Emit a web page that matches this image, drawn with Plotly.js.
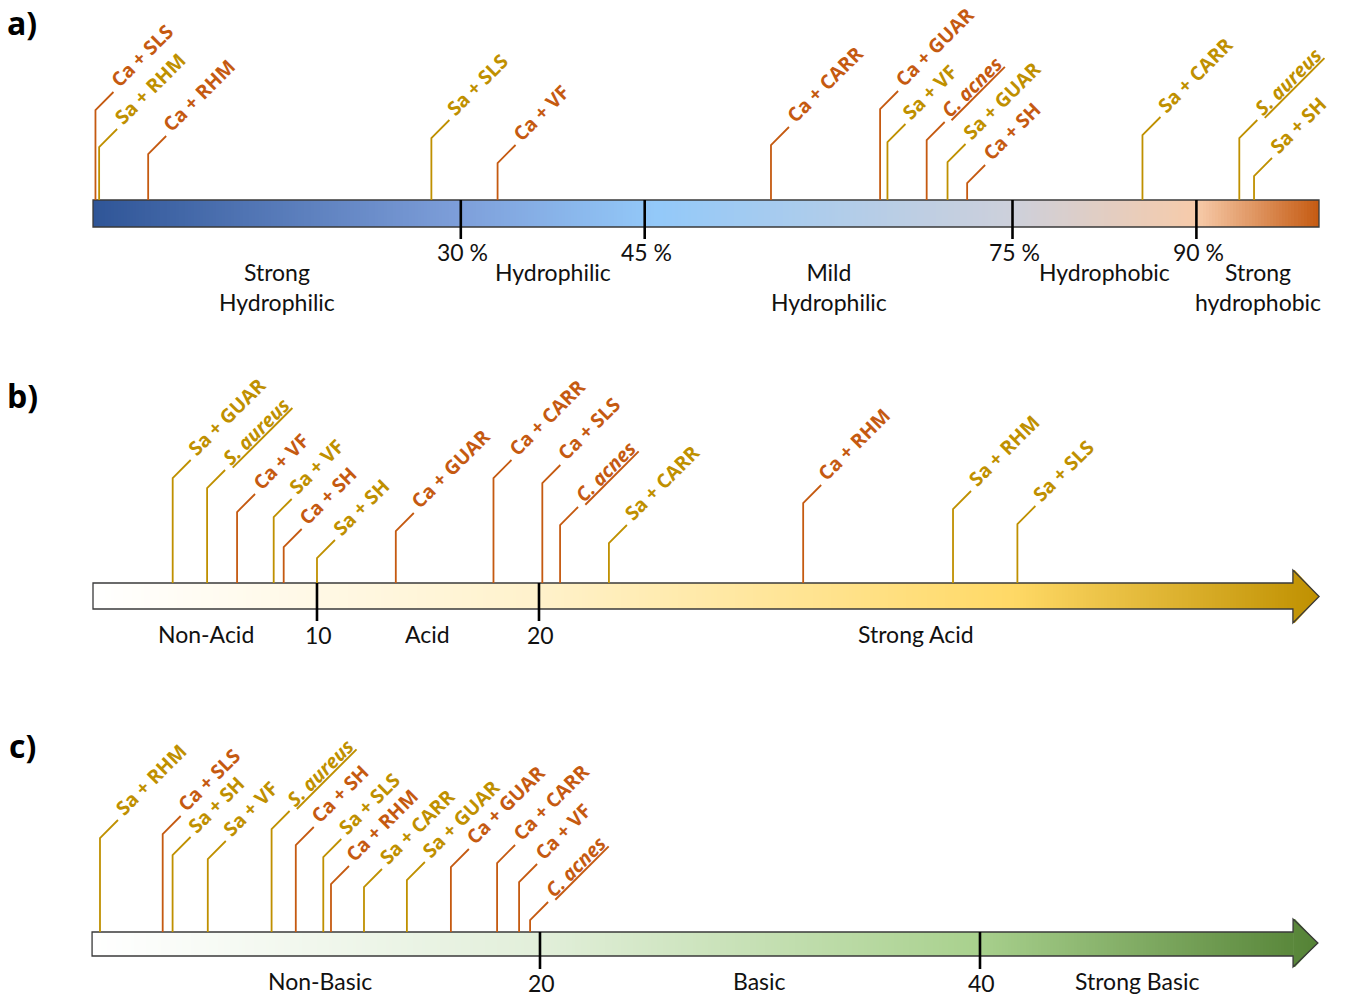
<!DOCTYPE html>
<html><head><meta charset="utf-8">
<script src="https://cdn.plot.ly/plotly-3.0.1.min.js"></script>
<style>html,body{margin:0;padding:0;background:#fff;}#chart{width:1353px;height:996px;}</style>
</head><body><div id="chart"></div>
<script>
// ================= DATA =================
// a) hydrophobicity (%)
const aLabels = ['Ca + SLS','Sa + RHM','Ca + RHM','Sa + SLS','Ca + VF','Ca + CARR','Ca + GUAR','Sa + VF','C. acnes','Sa + GUAR','Ca + SH','Sa + CARR','S. aureus','Sa + SH'];
const aValues = [0.2, 0.5, 4.5, 27.6, 33.0, 55.3, 64.2, 64.8, 68.0, 69.7, 71.3, 85.6, 93.5, 94.7];
const aTicks = [30, 45, 75, 90];
const aTickText = ['30 %', '45 %', '75 %', '90 %'];
const aZones = ['Strong<br>Hydrophilic', 'Hydrophilic', 'Mild<br>Hydrophilic', 'Hydrophobic', 'Strong<br>hydrophobic'];

// b) acidity
const bLabels = ['Sa + GUAR','S. aureus','Ca + VF','Sa + VF','Ca + SH','Sa + SH','Ca + GUAR','Ca + CARR','Ca + SLS','C. acnes','Sa + CARR','Ca + RHM','Sa + RHM','Sa + SLS'];
const bValues = [3.5, 5.05, 6.4, 8.05, 8.5, 10.0, 13.55, 17.95, 20.15, 20.95, 23.15, 31.9, 38.65, 41.55];
const bTicks = [10, 20];
const bTickText = ['10', '20'];
const bZones = ['Non-Acid', 'Acid', 'Strong Acid'];

// c) basicity
const cLabels = ['Sa + RHM','Ca + SLS','Sa + SH','Sa + VF','S. aureus','Ca + SH','Sa + SLS','Ca + RHM','Sa + CARR','Sa + GUAR','Ca + GUAR','Ca + CARR','Ca + VF','C. acnes'];
const cValues = [0.0, 2.85, 3.3, 4.9, 7.8, 8.9, 10.15, 10.5, 12.0, 13.95, 15.95, 18.05, 19.05, 19.55];
const cTicks = [20, 40];
const cTickText = ['20', '40'];
const cZones = ['Non-Basic', 'Basic', 'Strong Basic'];

// ================= LAYOUT / STYLE =================
// leader heights above the bar (px)
const aLeader = [90, 53, 46, 62, 37, 55, 91, 58, 60, 38, 17, 65, 62, 24];
const bLeader = [105, 95, 71, 66, 36, 25, 52, 105, 100, 58, 40, 80, 74, 59];
const cLeader = [94, 98, 77, 73, 103, 87, 75, 48, 45, 52, 65, 69, 50, 12];

const CA_COLOR = '#C55A11', SA_COLOR = '#BF9000';
const FONT = 'Lato, "Open Sans", sans-serif';
const LABEL_FONT = '"Open Sans", "Noto Sans", sans-serif';
const DIAG = 18, LABEL_SIZE = 19.5, ZONE_SIZE = 23;
const W = 1353, H = 996;

const panels = [
  {xa: 'x', key: 'xaxis', range: [-7.586, 102.773], start: 0, shaftEnd: 100, end: 100, arrow: false,
   barTop: 200, barBottom: 227, tickBottom: 239, tickLabelY: 252, zoneY: 256, zoneAnchor: 'top',
   letter: 'a)', letterY: 22, labels: aLabels, values: aValues, leader: aLeader,
   ticks: aTicks, tickText: aTickText, zones: aZones,
   colorscale: [[0, '#2F5597'], [0.3, '#7E9FDA'], [0.46, '#93C9F9'], [0.75, '#CDD0DB'], [0.9, '#F7CBAA'], [1, '#C55A11']]},
  {xa: 'x2', key: 'xaxis2', range: [-4.279, 56.667], start: -0.09, shaftEnd: 53.96, end: 55.14, arrow: true,
   barTop: 583, barBottom: 609, headTop: 570, headBottom: 623, tickBottom: 621, tickLabelY: 635, zoneY: 634, zoneAnchor: 'middle',
   letter: 'b)', letterY: 395, labels: bLabels, values: bValues, leader: bLeader,
   ticks: bTicks, tickText: bTickText, zones: bZones,
   colorscale: [[0, '#FFFFFF'], [0.36, '#FFF2CC'], [0.75, '#FFD966'], [1, '#BF9000']]},
  {xa: 'x3', key: 'xaxis3', range: [-4.545, 56.955], start: -0.36, shaftEnd: 54.23, end: 55.36, arrow: true,
   barTop: 932, barBottom: 956, headTop: 919, headBottom: 967, tickBottom: 969, tickLabelY: 983, zoneY: 981, zoneAnchor: 'middle',
   letter: 'c)', letterY: 745, labels: cLabels, values: cValues, leader: cLeader,
   ticks: cTicks, tickText: cTickText, zones: cZones,
   colorscale: [[0, '#FFFFFF'], [0.365, '#E2EFDA'], [0.72, '#A9D18E'], [1, '#548235']]}
];

const traces = [], shapes = [], annotations = [];
const layout = {
  width: W, height: H, margin: {l: 0, r: 0, t: 0, b: 0},
  paper_bgcolor: '#fff', plot_bgcolor: '#fff', showlegend: false,
  yaxis: {domain: [0, 1], range: [H, 0], visible: false, fixedrange: true},
  shapes: shapes, annotations: annotations
};

function isCa(label) { return label.startsWith('Ca') || label.startsWith('C. acnes'); }
function fmtLabel(label) {
  if (label === 'C. acnes' || label === 'S. aureus') return '<b><i><u>' + label + '</u></i></b>';
  return '<b>' + label + '</b>';
}

panels.forEach((p) => {
  layout[p.key] = {domain: [0, 1], range: p.range, visible: false, fixedrange: true, anchor: 'y'};
  if (p.xa !== 'x') layout[p.key].overlaying = 'x';
  const k = W / (p.range[1] - p.range[0]); // px per unit

  // gradient shaft
  const N = 400;
  const edges = [], z = [];
  for (let j = 0; j <= N; j++) edges.push(p.start + (p.shaftEnd - p.start) * j / N);
  for (let j = 0; j < N; j++) z.push((edges[j] + edges[j + 1]) / 2);
  traces.push({type: 'heatmap', xaxis: p.xa, yaxis: 'y', x: edges, y: [p.barTop, p.barBottom], z: [z],
    zmin: p.start, zmax: p.end, colorscale: p.colorscale, showscale: false, hoverinfo: 'skip'});

  let outline;
  if (p.arrow) {
    const M = 30, he = [], hz = [];
    for (let j = 0; j <= M; j++) he.push(p.shaftEnd + (p.end - p.shaftEnd) * j / M);
    for (let j = 0; j < M; j++) hz.push((he[j] + he[j + 1]) / 2);
    traces.push({type: 'heatmap', xaxis: p.xa, yaxis: 'y', x: he, y: [p.headTop, p.headBottom], z: [hz],
      zmin: p.start, zmax: p.end, colorscale: p.colorscale, showscale: false, hoverinfo: 'skip'});
    const mid = (p.headTop + p.headBottom) / 2;
    const e2 = p.end + 2 / k;
    shapes.push({type: 'path', xref: p.xa, yref: 'y', layer: 'above', fillcolor: '#fff', line: {width: 0},
      path: `M ${p.shaftEnd},${p.headTop - 2} L ${e2},${p.headTop - 2} L ${e2},${mid} L ${p.end},${mid} Z`});
    shapes.push({type: 'path', xref: p.xa, yref: 'y', layer: 'above', fillcolor: '#fff', line: {width: 0},
      path: `M ${p.shaftEnd},${p.headBottom + 2} L ${e2},${p.headBottom + 2} L ${e2},${mid} L ${p.end},${mid} Z`});
    outline = `M ${p.start},${p.barTop} L ${p.shaftEnd},${p.barTop} L ${p.shaftEnd},${p.headTop} L ${p.end},${mid} ` +
              `L ${p.shaftEnd},${p.headBottom} L ${p.shaftEnd},${p.barBottom} L ${p.start},${p.barBottom} Z`;
  } else {
    outline = `M ${p.start},${p.barTop} L ${p.end},${p.barTop} L ${p.end},${p.barBottom} L ${p.start},${p.barBottom} Z`;
  }
  shapes.push({type: 'path', xref: p.xa, yref: 'y', layer: 'above', path: outline,
    fillcolor: 'rgba(0,0,0,0)', line: {color: '#3a3a3a', width: 1.3}});

  // ticks
  p.ticks.forEach((t, i) => {
    shapes.push({type: 'line', xref: p.xa, yref: 'y', layer: 'above', x0: t, x1: t, y0: p.barTop, y1: p.tickBottom,
      line: {color: '#000', width: 2.6}});
    annotations.push({xref: p.xa, yref: 'y', x: t, y: p.tickLabelY, text: p.tickText[i], showarrow: false,
      xanchor: 'center', yanchor: 'middle', xshift: 2, font: {family: FONT, size: ZONE_SIZE, color: '#111'}});
  });

  // zones centred between boundaries
  const bounds = [0, ...p.ticks, p.shaftEnd];
  p.zones.forEach((zn, i) => {
    annotations.push({xref: p.xa, yref: 'y', x: (bounds[i] + bounds[i + 1]) / 2, y: p.zoneY, text: zn, showarrow: false,
      xanchor: 'center', yanchor: p.zoneAnchor, align: 'center',
      font: {family: FONT, size: ZONE_SIZE, color: '#111'}});
  });

  // leaders and labels
  p.labels.forEach((lab, i) => {
    const v = p.values[i];
    const top = p.barTop - p.leader[i];
    const col = isCa(lab) ? CA_COLOR : SA_COLOR;
    const dx = DIAG / k;
    shapes.push({type: 'path', xref: p.xa, yref: 'y', layer: 'above',
      path: `M ${v},${p.barTop} L ${v},${top} L ${v + dx},${top - DIAG}`,
      line: {color: col, width: 1.8}});
    const hBox = 1.36 * LABEL_SIZE;
    annotations.push({xref: p.xa, yref: 'y', x: v + dx, y: top - DIAG, text: fmtLabel(lab), showarrow: false,
      textangle: -45, xanchor: 'left', yanchor: 'bottom', borderpad: 0, borderwidth: 0,
      xshift: 10 - 0.7071 * hBox, yshift: -1,
      font: {family: LABEL_FONT, size: LABEL_SIZE, color: col, weight: 'bold'}});
  });

  // panel letter
  annotations.push({xref: 'paper', yref: 'y', x: 22 / W, y: p.letterY, text: '<b>' + p.letter + '</b>', showarrow: false,
    xanchor: 'center', yanchor: 'middle', font: {family: LABEL_FONT, size: 32, color: '#000', weight: 'bold'}});
});

Plotly.newPlot('chart', traces, layout, {displayModeBar: false, staticPlot: true});
</script>
</body></html>
